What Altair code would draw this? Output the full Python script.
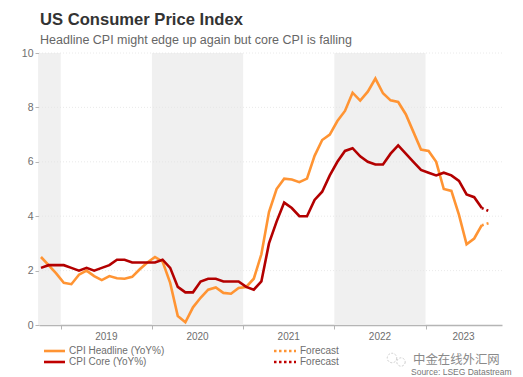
import altair as alt
import pandas as pd

headline = [2.5,2.2,1.9,1.55,1.5,1.85,2.0,1.8,1.65,1.8,1.72,1.7,1.77,2.05,2.3,2.5,2.33,1.55,0.33,0.1,0.65,1.0,1.3,1.38,1.18,1.15,1.36,1.4,1.7,2.6,4.15,5.0,5.38,5.35,5.25,5.38,6.22,6.8,7.0,7.5,7.87,8.54,8.25,8.58,9.06,8.52,8.26,8.2,7.75,7.1,6.45,6.4,6.0,5.0,4.93,4.05,2.97,3.18,3.67]
core = [2.1,2.2,2.2,2.2,2.1,2.0,2.1,2.0,2.1,2.2,2.4,2.4,2.3,2.3,2.3,2.3,2.4,2.1,1.4,1.2,1.2,1.6,1.7,1.7,1.6,1.6,1.6,1.4,1.3,1.6,3.0,3.8,4.5,4.3,4.0,4.0,4.6,4.9,5.5,6.0,6.4,6.5,6.2,6.0,5.9,5.9,6.3,6.6,6.3,6.0,5.7,5.6,5.5,5.6,5.5,5.3,4.8,4.7,4.3]
headline_fc = [3.67,3.75]
core_fc = [4.3,4.18]
fc_months = [58,59]
months = list(range(len(headline)))
band_start = [-0.26,14.6,38.6]
band_end = [2.6,26.6,50.6]
year_ticks = [2.6,14.6,26.6,38.6,50.6]
year_labels = ["2019","2020","2021","2022","2023"]
year_pos = [8.6,20.6,32.6,44.6,55.6]
y_ticks = [0,2,4,6,8,10]

ORANGE="#ff9433"; RED="#b30000"; TXT="#6e6e6e"; FONT="Liberation Sans"
W,H=463,272
xs=alt.Scale(domain=[-0.26,60.66],nice=False,zero=False)
ys=alt.Scale(domain=[0,10],nice=False)
xaxis=alt.Axis(values=year_ticks,labels=False,grid=False,title=None,domainColor="#b5b5b5",domainWidth=1.5,tickColor="#b5b5b5",tickSize=4)
yaxis=alt.Axis(values=y_ticks,format="d",grid=False,title=None,domainColor="#c8c8c8",domainWidth=1.5,tickColor="#b5b5b5",tickSize=4,
    labelColor=TXT,labelFont=FONT,labelFontSize=10.5,labelPadding=2)
xq=alt.X("m:Q",scale=xs,axis=xaxis)
yq=alt.Y("v:Q",scale=ys,axis=yaxis)

bands=alt.Chart(pd.DataFrame({"a":band_start,"b":band_end})).mark_rect(color="#f0f0f0").encode(
    x=alt.X("a:Q",scale=xs,axis=xaxis),x2="b:Q")
grid=alt.Chart(pd.DataFrame({"v":y_ticks[1:]})).mark_rule(color="#e4e4e4",strokeDash=[1,2],strokeWidth=0.8).encode(y=yq)
def line(ms,vals,color,dash=None):
    kw={"strokeDash":dash} if dash else {}
    return alt.Chart(pd.DataFrame({"m":ms,"v":vals})).mark_line(color=color,strokeWidth=2.6,strokeJoin="miter",**kw).encode(x=xq,y=yq)
years=alt.Chart(pd.DataFrame({"m":year_pos,"t":year_labels})).mark_text(font=FONT,fontSize=10,color=TXT,baseline="middle").encode(
    x=xq,y=alt.value(H+12),text="t:N")
def txt(s,x,y,size=10,color=TXT,weight="normal",font=FONT,align="left"):
    return alt.Chart(pd.DataFrame({"t":[s]})).mark_text(font=font,fontSize=size,color=color,fontWeight=weight,align=align,baseline="middle").encode(
        x=alt.value(x),y=alt.value(y),text="t:N")
def key(x1,x2,y,color,dash=None,sw=2.6):
    kw={"strokeDash":dash} if dash else {}
    return alt.Chart(pd.DataFrame({"k":[0]})).mark_rule(color=color,strokeWidth=sw,**kw).encode(
        x=alt.value(x1),x2=alt.value(x2),y=alt.value(y))
def blob(x,y,size):
    return alt.Chart(pd.DataFrame({"k":[0]})).mark_point(shape="circle",size=size,color="#a8a8a8",strokeWidth=0.8,strokeDash=[2,1.5],filled=False).encode(
        x=alt.value(x),y=alt.value(y))
ox,oy=39,53
layers=[bands,grid,
    line(months,headline,ORANGE),line(months,core,RED),
    line(fc_months,headline_fc,ORANGE,[2,3]),line(fc_months,core_fc,RED,[2,3]),
    years,
    txt("US Consumer Price Index",40-ox,20-oy,16.6,"#333333","bold"),
    txt("Headline CPI might edge up again but core CPI is falling",40-ox,40-oy,12.5,"#666666"),
    key(44-ox,65-ox,351-oy,ORANGE),key(44-ox,65-ox,362-oy,"#c00000"),
    txt("CPI Headline (YoY%)",69-ox,351-oy),txt("CPI Core (YoY%)",69-ox,362-oy),
    key(274-ox,296-ox,351-oy,ORANGE,[2.5,2.5]),key(274-ox,296-ox,362-oy,"#c00000",[2.5,2.5]),
    txt("Forecast",300-ox,351-oy),txt("Forecast",300-ox,362-oy),
    blob(392-ox,358-oy,90),blob(401-ox,362-oy,70),
    txt("中金在线外汇网",413-ox,360-oy,12.4,"#8a8a8a",font="Noto Sans CJK SC"),
    txt("Source: LSEG Datastream",411-ox,372-oy,8.5,"#777777"),
]
chart=alt.layer(*layers).properties(width=W,height=H,
    padding={"left":ox-8,"top":oy-8,"right":10,"bottom":52},
    autosize=alt.AutoSizeParams(type="none"),background="white"
).configure_view(stroke=None)
chart.save("out.html",embed_options={"renderer":"svg","actions":False})
